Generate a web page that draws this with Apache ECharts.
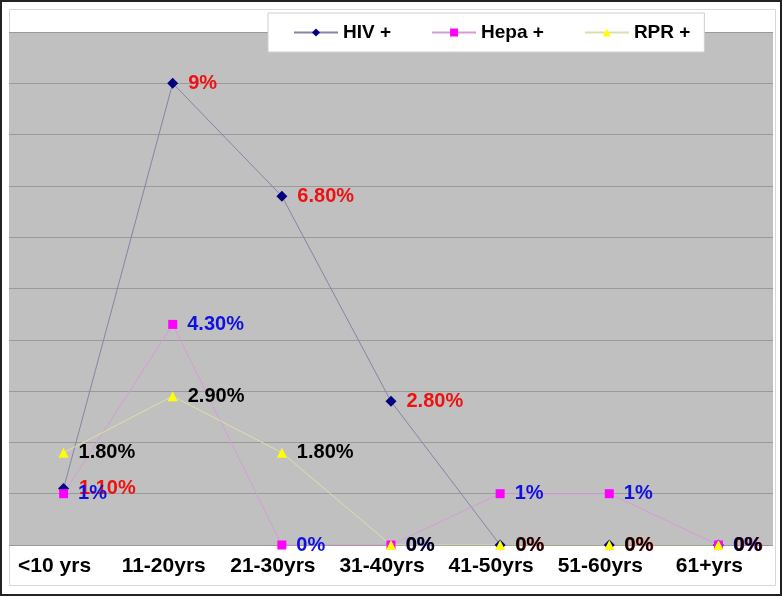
<!DOCTYPE html>
<html>
<head>
<meta charset="utf-8">
<script src="https://cdn.jsdelivr.net/npm/echarts@6/dist/echarts.min.js"></script>
<style>html,body{margin:0;padding:0;background:#fff}#c{width:784px;height:597px}</style>
</head>
<body>
<div id="c"></div>
<script>
const categories = ['<10 yrs', '11-20yrs', '21-30yrs', '31-40yrs', '41-50yrs', '51-60yrs', '61+yrs'];
const hiv = [1.1, 9, 6.8, 2.8, 0, 0, 0];
const hepa = [1, 4.3, 0, 0, 1, 1, 0];
const rpr = [1.8, 2.9, 1.8, 0, 0, 0, 0];
const seriesNames = ['HIV +', 'Hepa +', 'RPR +'];

const fmt = p => (Number.isInteger(p.value) ? p.value : p.value.toFixed(2)) + '%';
const font = 'Liberation Sans, Arial, sans-serif';

function mk(name, data, symbol, size, markerColor, lineColor, labelColor) {
  return {
    name, type: 'line', data, symbol, symbolSize: size,
    itemStyle: { color: markerColor },
    lineStyle: { color: lineColor, width: 1 },
    label: {
      show: true, position: 'right', distance: 10, formatter: fmt,
      color: labelColor, fontFamily: font, fontWeight: 'bold', fontSize: 20
    },
    emphasis: { disabled: true },
    animation: false
  };
}

const chart = echarts.init(document.getElementById('c'));
chart.setOption({
  animation: false,
  backgroundColor: '#fff',
  graphic: [
    { type: 'rect', shape: { x: 1, y: 1, width: 780, height: 594 }, style: { fill: 'none', stroke: '#222', lineWidth: 2 }, z: -10 },
    { type: 'rect', shape: { x: 9.5, y: 9.5, width: 766, height: 576 }, style: { fill: 'none', stroke: '#d8d8d8', lineWidth: 1 }, z: -10 }
  ],
  grid: { left: 9, right: 11, top: 32, bottom: 52, show: true, backgroundColor: '#c0c0c0', borderWidth: 0 },
  legend: {
    data: seriesNames,
    left: 268, top: 13,
    backgroundColor: '#fff', borderColor: '#cfcfcf', borderWidth: 1,
    padding: [10, 14, 10, 25],
    itemWidth: 44, itemHeight: 10, itemGap: 40,
    textStyle: { fontFamily: font, fontWeight: 'bold', fontSize: 19, color: '#000' }
  },
  xAxis: {
    type: 'category', data: categories, boundaryGap: true,
    axisLine: { show: false }, axisTick: { show: false },
    axisLabel: { interval: 0, margin: 11, padding: [0, 18, 0, 0], color: '#000', fontFamily: font, fontWeight: 'bold', fontSize: 21 }
  },
  yAxis: {
    type: 'value', min: 0, max: 10, interval: 1,
    axisLine: { show: false }, axisTick: { show: false }, axisLabel: { show: false },
    splitLine: { lineStyle: { color: '#9a9a9a', width: 1 } }
  },
  series: [
    mk('HIV +', hiv, 'diamond', 11, '#000080', '#8484a8', '#ee1111'),
    mk('Hepa +', hepa, 'rect', 9, '#ff00ff', '#d79ad7', '#1010e0'),
    mk('RPR +', rpr, 'triangle', 10, '#ffff00', '#dedea8', '#000')
  ]
});
</script>
</body>
</html>
